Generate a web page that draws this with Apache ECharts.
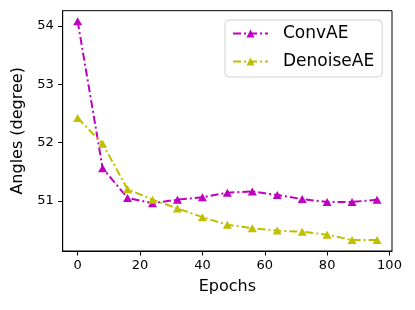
<!DOCTYPE html>
<html>
<head>
<meta charset="utf-8">
<script src="https://cdn.jsdelivr.net/npm/echarts@6/dist/echarts.min.js"></script>
<style>html,body{margin:0;padding:0;background:#fff;}#c{width:415px;height:310px;}</style>
</head>
<body>
<div id="c"></div>
<script>
const epochs = [0, 8, 16, 24, 32, 40, 48, 56, 64, 72, 80, 88, 96];
const convAE = [54.08, 51.56, 51.05, 50.96, 51.02, 51.06, 51.14, 51.16, 51.10, 51.03, 50.98, 50.98, 51.02];
const denoiseAE = [52.42, 51.98, 51.20, 51.02, 50.87, 50.72, 50.59, 50.53, 50.49, 50.47, 50.42, 50.33, 50.33];
const xTicks = [0, 20, 40, 60, 80, 100];
const yTicks = [51, 52, 53, 54];
const seriesNames = ['ConvAE', 'DenoiseAE'];

const font = 'DejaVu Sans';
const chart = echarts.init(document.getElementById('c'), null, {renderer: 'canvas'});
const pair = (xs, ys) => xs.map((x, i) => [x, ys[i]]);
const dashDot = [8, 3, 2, 3];

chart.setOption({
  animation: false,
  backgroundColor: '#fff',
  grid: {left: 62.7, top: 10.7, width: 329.3, height: 240.3, show: true, borderColor: '#000', borderWidth: 1, backgroundColor: 'transparent'},
  xAxis: {
    type: 'value', min: -4.8, max: 100.8,
    name: 'Epochs', nameLocation: 'middle', nameGap: 28,
    nameTextStyle: {fontFamily: font, fontSize: 16, color: '#000'},
    axisLine: {show: true, onZero: false, lineStyle: {color: '#000', width: 1}},
    axisTick: {show: true, length: 4.5, lineStyle: {color: '#000'}, customValues: xTicks},
    axisLabel: {fontFamily: font, fontSize: 13, color: '#000', margin: 8, customValues: xTicks},
    splitLine: {show: false}
  },
  yAxis: {
    type: 'value', min: 50.14, max: 54.26,
    name: 'Angles (degree)', nameLocation: 'middle', nameGap: 36, nameRotate: 90,
    nameTextStyle: {fontFamily: font, fontSize: 16, color: '#000'},
    axisLine: {show: true, onZero: false, lineStyle: {color: '#000', width: 1}},
    axisTick: {show: true, length: 4.5, lineStyle: {color: '#000'}, customValues: yTicks},
    axisLabel: {fontFamily: font, fontSize: 13, color: '#000', margin: 9, customValues: yTicks},
    splitLine: {show: false}
  },
  legend: {
    orient: 'vertical', left: 225, top: 20,
    padding: [5, 8, 7, 7],
    itemWidth: 35, itemHeight: 10, itemGap: 11,
    borderColor: '#d0d0d0', borderWidth: 1, borderRadius: 4,
    textStyle: {fontFamily: font, fontSize: 17, color: '#000', lineHeight: 17, padding: [0, 0, 0, 10]},
    data: seriesNames
  },
  series: [
    {
      name: seriesNames[0], type: 'line', data: pair(epochs, convAE),
      symbol: 'triangle', symbolSize: [9, 8],
      itemStyle: {color: '#bf00bf'},
      lineStyle: {color: '#bf00bf', width: 2, type: dashDot}
    },
    {
      name: seriesNames[1], type: 'line', data: pair(epochs, denoiseAE),
      symbol: 'triangle', symbolSize: [9, 8],
      itemStyle: {color: '#bfbf00'},
      lineStyle: {color: '#bfbf00', width: 2, type: dashDot}
    }
  ]
});
</script>
</body>
</html>
